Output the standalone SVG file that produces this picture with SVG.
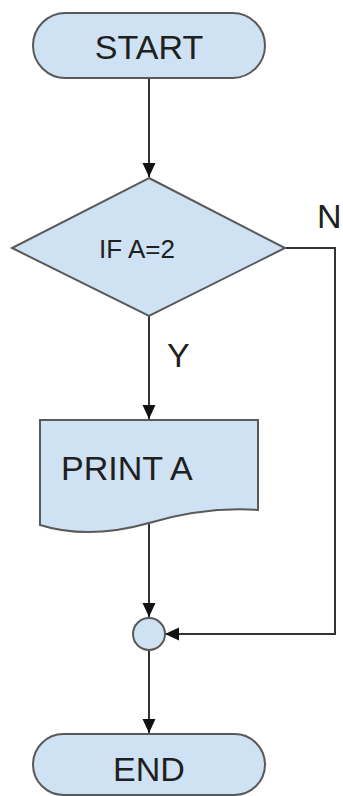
<svg xmlns="http://www.w3.org/2000/svg" width="343" height="796" viewBox="0 0 343 796">
<defs>
<style>
.shape{fill:#cfe2f3;stroke:#595959;stroke-width:2}
.lbl{font-family:"Liberation Sans",Arial,sans-serif;fill:#202020;font-size:34px}
.conn{fill:none;stroke:#333;stroke-width:2}
</style>
<marker id="arr" markerUnits="userSpaceOnUse" markerWidth="14" markerHeight="16" refX="14" refY="6.5" orient="auto">
<path d="M0,0 L14,6.5 L0,13 Z" fill="#111"/>
</marker>
</defs>
<rect width="343" height="796" fill="#fff"/>
<g id="connectors">
<line class="conn" x1="149" y1="78" x2="149" y2="177" marker-end="url(#arr)"/>
<line class="conn" x1="149" y1="316" x2="149" y2="419" marker-end="url(#arr)"/>
<line class="conn" x1="149" y1="524" x2="149" y2="617" marker-end="url(#arr)"/>
<line class="conn" x1="149" y1="651" x2="149" y2="733" marker-end="url(#arr)"/>
<polyline class="conn" points="285,248 335,248 335,634 165,634" marker-end="url(#arr)"/>
<text class="lbl" x="167" y="367">Y</text>
<text class="lbl" x="317" y="228">N</text>
</g>
<g id="start">
<rect class="shape" x="33" y="13" width="232" height="65" rx="32.5"/>
<text class="lbl" x="149" y="59" text-anchor="middle">START</text>
</g>
<g id="decision">
<polygon class="shape" points="149,178 285,248 149,316 12,248"/>
<text class="lbl" x="99" y="258" style="font-size:26px">IF A=2</text>
</g>
<g id="print">
<path class="shape" d="M40,420 H258 V510 C215,507 180,514 149,523 C110,534 75,536 40,525 Z"/>
<text class="lbl" x="61" y="480">PRINT A</text>
</g>
<g id="join">
<circle class="shape" cx="149" cy="634" r="16"/>
</g>
<g id="end">
<rect class="shape" x="33" y="734" width="232" height="61" rx="30.5"/>
<text class="lbl" x="149" y="781" text-anchor="middle">END</text>
</g>
</svg>
